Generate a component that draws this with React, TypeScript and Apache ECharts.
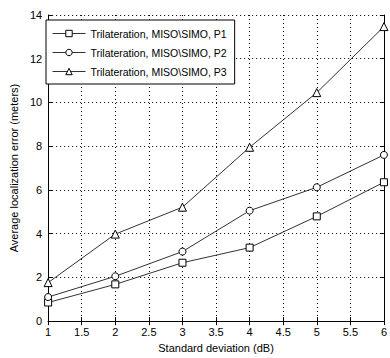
import React, { useEffect, useRef } from "react";
import * as echarts from "echarts";

const xValues = [1, 2, 3, 4, 5, 6];
const p1 = [0.85, 1.68, 2.67, 3.36, 4.79, 6.35];
const p2 = [1.1, 2.05, 3.18, 5.05, 6.12, 7.6];
const p3 = [1.76, 3.98, 5.21, 7.95, 10.45, 13.47];
const seriesNames = [
  "Trilateration, MISO\\SIMO, P1",
  "Trilateration, MISO\\SIMO, P2",
  "Trilateration, MISO\\SIMO, P3",
];
const symbols = ["rect", "circle", "triangle"];

export default function App() {
  const ref = useRef<HTMLDivElement>(null);
  useEffect(() => {
    if (!ref.current) return;
    const chart = echarts.init(ref.current, undefined, { renderer: "svg" });
    const font = "'Liberation Sans', Arial, sans-serif";
    const tickStyle = { show: true, inside: true, length: 4, lineStyle: { color: "#000" } };
    const axisLine = { show: true, lineStyle: { color: "#000", width: 1 } };
    const split = { show: true, lineStyle: { color: "#000", type: [1, 3] as any, width: 1 } };
    const datas = [p1, p2, p3];
    chart.setOption({
      animation: false,
      backgroundColor: "#fff",
      textStyle: { fontFamily: font },
      grid: { left: 38.5, top: 15, width: 352.5, height: 308 },
      legend: {
        left: 46,
        top: 20,
        orient: "vertical",
        padding: [8, 8, 7, 6],
        itemGap: 8,
        itemWidth: 33,
        itemHeight: 8,
        itemTextGap: 3,
        borderColor: "#000",
        borderWidth: 1,
        backgroundColor: "#fff",
        borderRadius: 0,
        lineStyle: { width: 1, color: "#333" },
        itemStyle: { color: "#fff", borderColor: "#000", borderWidth: 1 },
        textStyle: { fontFamily: font, fontSize: 10.5, color: "#000", lineHeight: 8 },
        data: seriesNames,
      },
      xAxis: [
        {
          type: "value",
          min: 1,
          max: 6,
          interval: 0.5,
          axisLine,
          axisTick: tickStyle,
          splitLine: split,
          axisLabel: { color: "#000", fontSize: 11, margin: 5, fontFamily: font, showMaxLabel: true },
          name: "Standard deviation (dB)",
          nameLocation: "middle",
          nameGap: 19,
          nameTextStyle: { color: "#000", fontSize: 11, fontFamily: font },
        },
        {
          type: "value",
          position: "top",
          min: 1,
          max: 6,
          interval: 0.5,
          axisLine,
          axisTick: tickStyle,
          splitLine: { show: false },
          axisLabel: { show: false },
        },
      ],
      yAxis: [
        {
          type: "value",
          min: 0,
          max: 14,
          interval: 2,
          axisLine,
          axisTick: tickStyle,
          splitLine: split,
          axisLabel: { color: "#000", fontSize: 11, margin: 6, fontFamily: font },
          name: "Average localization error (meters)",
          nameLocation: "middle",
          nameGap: 22,
          nameTextStyle: { color: "#000", fontSize: 11, fontFamily: font },
        },
        {
          type: "value",
          position: "right",
          min: 0,
          max: 14,
          interval: 2,
          axisLine,
          axisTick: tickStyle,
          splitLine: { show: false },
          axisLabel: { show: false },
        },
      ],
      series: datas.map((d, i) => ({
        name: seriesNames[i],
        type: "line",
        xAxisIndex: 0,
        yAxisIndex: 0,
        data: xValues.map((x, j) => [x, d[j]]),
        symbol: symbols[i],
        symbolSize: i === 2 ? 8 : 7,
        showAllSymbol: true,
        lineStyle: { color: "#333", width: 1 },
        itemStyle: { color: "#fff", borderColor: "#000", borderWidth: 1 },
        emphasis: { disabled: true },
      })),
    });
    return () => chart.dispose();
  }, []);
  return (
    <div
      ref={ref}
      style={{ position: "fixed", left: 0, top: 0, width: 390, height: 358 }}
    />
  );
}
